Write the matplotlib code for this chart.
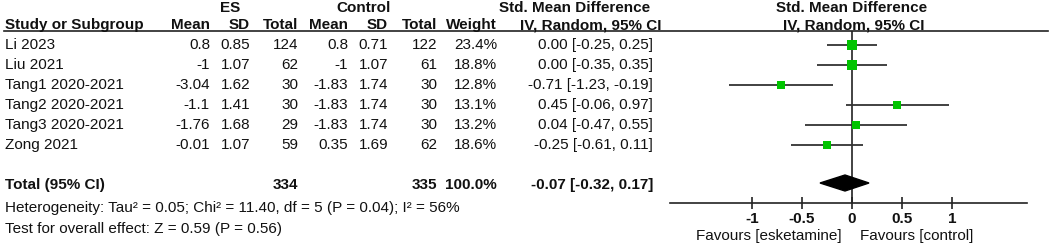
import numpy as np
import matplotlib.pyplot as plt
from matplotlib.patches import Polygon

plt.rcParams['font.family'] = ['Liberation Sans', 'DejaVu Sans']

# ---- data ----
studies = ['Li 2023', 'Liu 2021', 'Tang1 2020-2021', 'Tang2 2020-2021',
           'Tang3 2020-2021', 'Zong 2021']
es_mean = ['0.8', '-1', '-3.04', '-1.1', '-1.76', '-0.01']
es_sd = ['0.85', '1.07', '1.62', '1.41', '1.68', '1.07']
es_total = [124, 62, 30, 30, 29, 59]
ctl_mean = ['0.8', '-1', '-1.83', '-1.83', '-1.83', '0.35']
ctl_sd = ['0.71', '1.07', '1.74', '1.74', '1.74', '1.69']
ctl_total = [122, 61, 30, 30, 30, 62]
weight = [23.4, 18.8, 12.8, 13.1, 13.2, 18.6]
total_weight = 100.0
smd = [0.00, 0.00, -0.71, 0.45, 0.04, -0.25]
ci_lo = [-0.25, -0.35, -1.23, -0.06, -0.47, -0.61]
ci_hi = [0.25, 0.35, -0.19, 0.97, 0.55, 0.11]
total_smd, total_lo, total_hi = -0.07, -0.32, 0.17
xticks = [-1, -0.5, 0, 0.5, 1]
xtick_labels = ['-1', '-0.5', '0', '0.5', '1']

W, H = 1052, 247
fig = plt.figure(figsize=(W / 100, H / 100), dpi=100)

# table axes in pixel coordinates
tab = fig.add_axes([0, 0, 1, 1])
tab.set_xlim(0, W)
tab.set_ylim(H, 0)
tab.axis('off')

FS = 11
INK = '#111111'
row_y = [45 + 20 * i for i in range(len(studies))]
total_y = 185


def txt(x, y, s, ha='right', bold=False):
    tab.text(x, y, s, ha=ha, va='center', fontsize=FS,
             fontweight='bold' if bold else 'normal', color=INK)


# headers
txt(230, 8.5, 'ES', ha='center', bold=True)
txt(364, 8.5, 'Control', ha='center', bold=True)
txt(575, 8.5, 'Std. Mean Difference', ha='center', bold=True)
txt(852, 8.5, 'Std. Mean Difference', ha='center', bold=True)
txt(5, 25, 'Study or Subgroup', ha='left', bold=True)
for x, s in [(210, 'Mean'), (250, 'SD'), (298, 'Total'), (348, 'Mean'),
             (388, 'SD'), (437, 'Total'), (497, 'Weight')]:
    txt(x, 25, s, bold=True)
txt(662, 25, 'IV, Random, 95% CI', bold=True)
txt(854, 25, 'IV, Random, 95% CI', ha='center', bold=True)
tab.plot([4, 1048], [31, 31], color='#222222', lw=1.2)

for i, y in enumerate(row_y):
    txt(5, y, studies[i], ha='left')
    txt(210, y, es_mean[i])
    txt(250, y, es_sd[i])
    txt(298, y, str(es_total[i]))
    txt(348, y, ctl_mean[i])
    txt(388, y, ctl_sd[i])
    txt(437, y, str(ctl_total[i]))
    txt(497, y, f'{weight[i]:.1f}%')
    txt(653, y, f'{smd[i]:.2f} [{ci_lo[i]:.2f}, {ci_hi[i]:.2f}]')

txt(5, total_y, 'Total (95% CI)', ha='left', bold=True)
txt(298, total_y, str(sum(es_total)), bold=True)
txt(437, total_y, str(sum(ctl_total)), bold=True)
txt(497, total_y, f'{total_weight:.1f}%', bold=True)
txt(653, total_y, f'{total_smd:.2f} [{total_lo:.2f}, {total_hi:.2f}]', bold=True)
txt(5, 208, 'Heterogeneity: Tau² = 0.05; Chi² = 11.40, df = 5 (P = 0.04); I² = 56%', ha='left')
txt(5, 229, 'Test for overall effect: Z = 0.59 (P = 0.56)', ha='left')

# forest axes: x from 670 to 1027 px, y from 31 to 203 px
x0, x1, y0, y1 = 670, 1027, 31, 203
fx = fig.add_axes([x0 / W, 1 - y1 / H, (x1 - x0) / W, (y1 - y0) / H])
fx.patch.set_alpha(0)
fx.set_xlim(-1.82, 1.75)
fx.set_ylim(y1, y0)
for s in ['top', 'left', 'right']:
    fx.spines[s].set_visible(False)
fx.spines['bottom'].set_color('#222222')
fx.spines['bottom'].set_linewidth(1.2)
fx.set_yticks([])
fx.set_xticks(xticks)
fx.set_xticklabels(xtick_labels, fontsize=FS, fontweight='bold', color=INK)
fx.tick_params(axis='x', direction='inout', length=9, width=1.2, pad=2, color='#222222')

fx.axvline(0, color='#222222', lw=1.2)
fx.hlines(row_y, ci_lo, ci_hi, color='#333333', lw=1.3)
sizes = [(2.2 + 0.23 * w) ** 2 for w in weight]
fx.scatter(smd, row_y, s=sizes, marker='s', color='#00c400', zorder=3, linewidths=0)
diamond = Polygon([[total_lo, 183], [total_smd, 175], [total_hi, 183], [total_smd, 191]],
                  closed=True, color='black', zorder=3)
fx.add_patch(diamond)

txt(842, 236, 'Favours [esketamine]')
txt(860, 236, 'Favours [control]', ha='left')

fig.savefig('out.png', dpi=100)
